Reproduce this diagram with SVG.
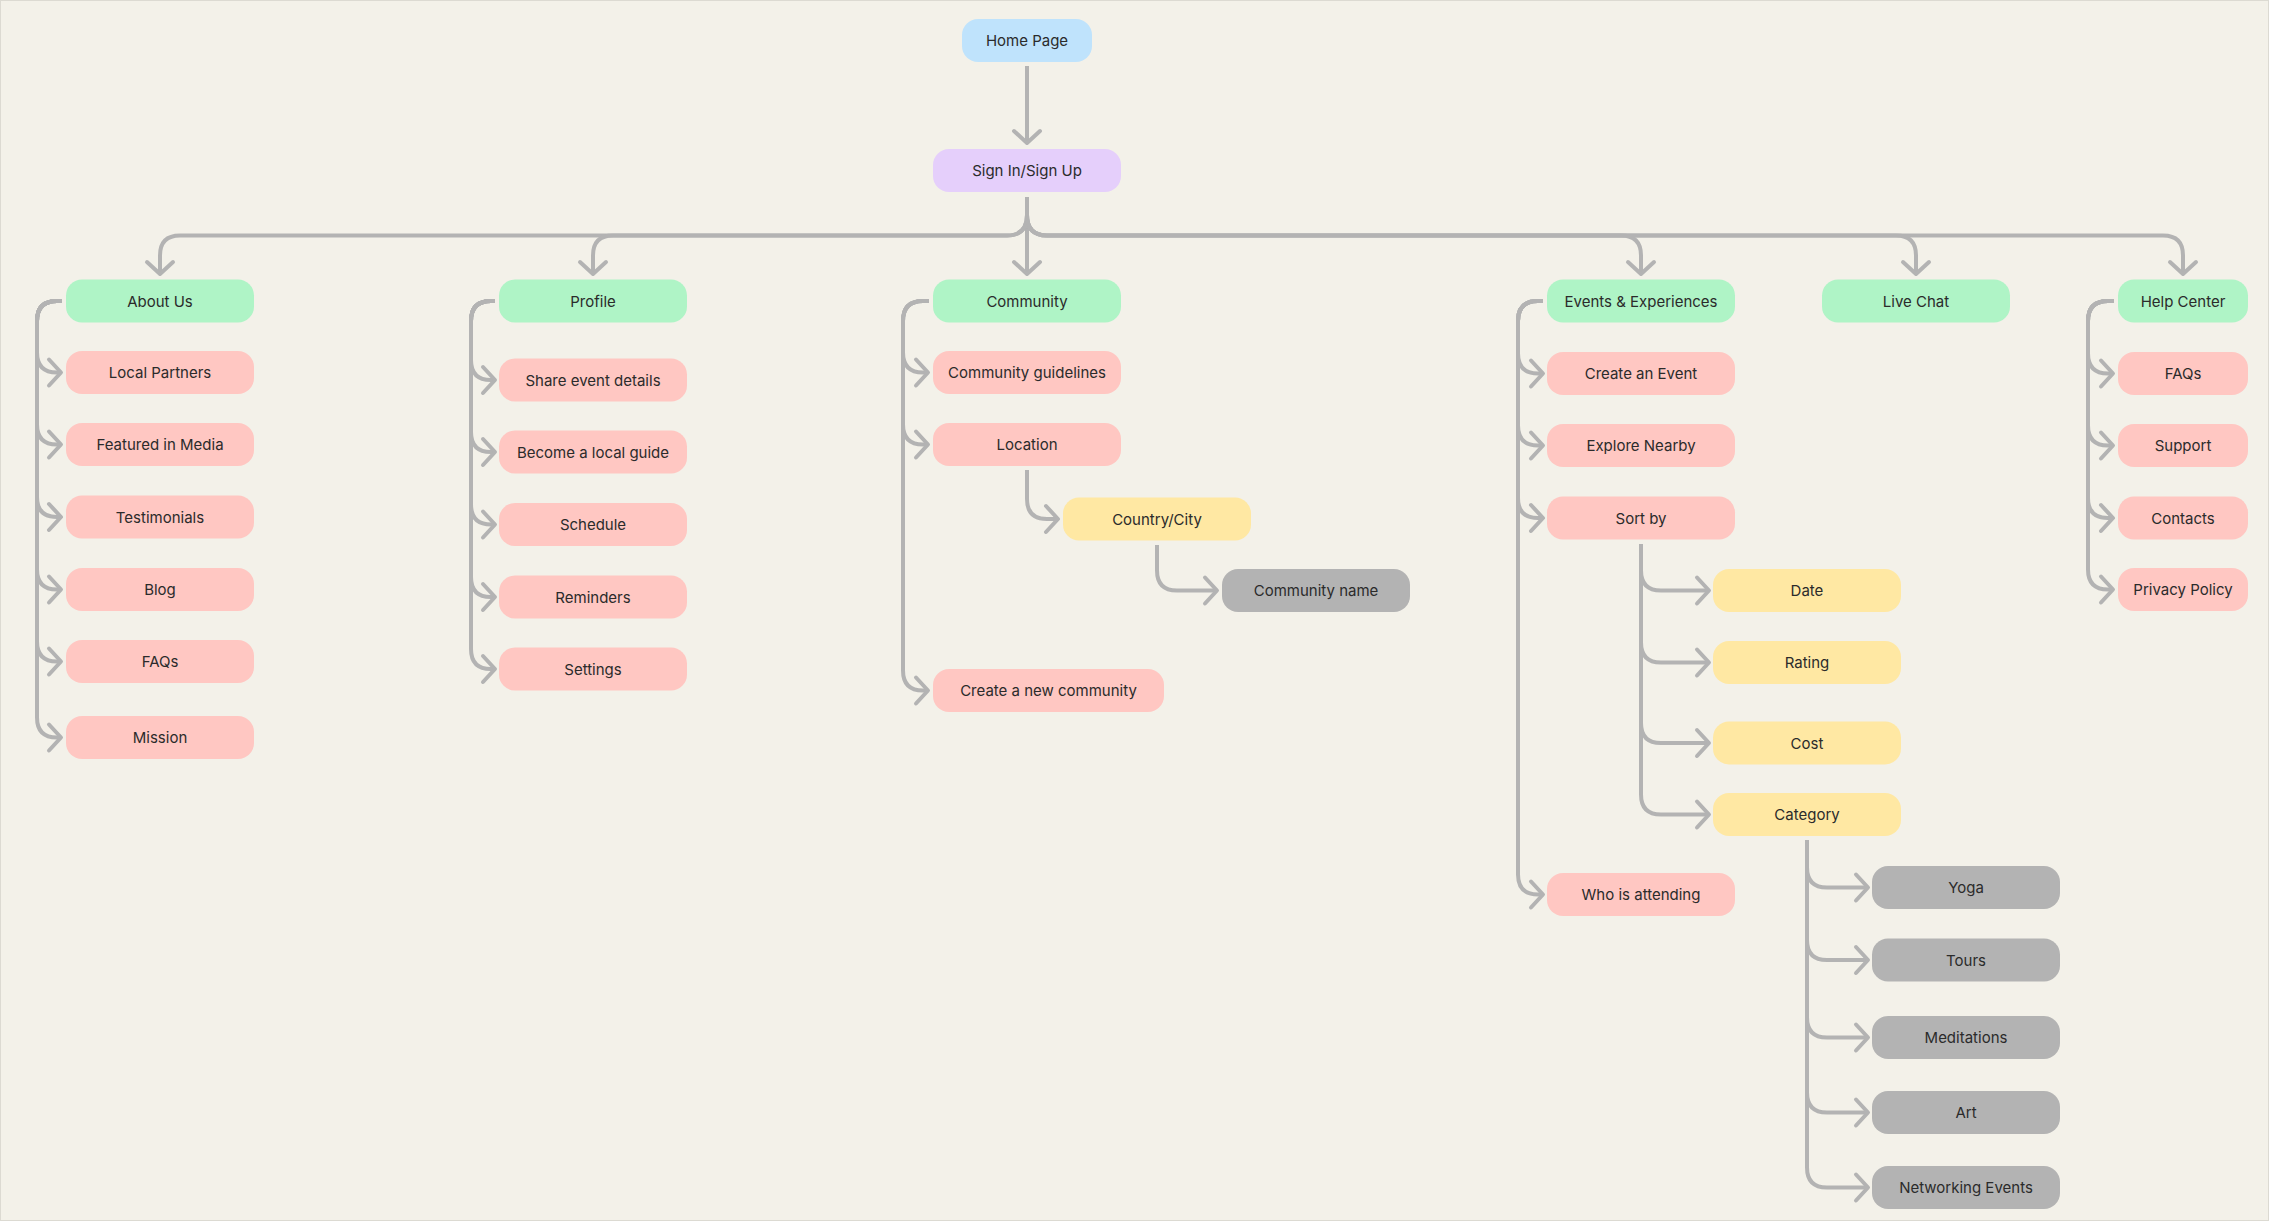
<svg xmlns="http://www.w3.org/2000/svg" width="2269" height="1221" viewBox="0 0 2269 1221">
<defs>
<style>
.n rect{rx:16;ry:16}
.blue rect{fill:#bfe3fc}
.purple rect{fill:#e5cffb}
.green rect{fill:#aff4c6}
.pink rect{fill:#ffc7c2}
.yellow rect{fill:#ffe8a3}
.gray rect{fill:#b3b3b3}
.n text{font-family:Inter,"Noto Sans","Liberation Sans",sans-serif;font-size:15px;font-weight:400;fill:#2b2b2b;text-anchor:middle}
.c path{fill:none;stroke:#b3b3b3;stroke-width:4;marker-end:url(#arr)}
</style>
<marker id="arr" markerUnits="userSpaceOnUse" orient="auto" refX="0" refY="0" markerWidth="30" markerHeight="30" overflow="visible">
<path d="M -12 -13 L 0 0 L -12 13" fill="none" stroke="#b3b3b3" stroke-width="4" stroke-linecap="round" stroke-linejoin="round"/>
</marker>
</defs>
<rect x="0.5" y="0.5" width="2268" height="1220" fill="#f3f1e9" stroke="#dcdad2" stroke-width="1"/>

<g id="connectors" class="c">
<path d="M 1027 66 V 143"/>
<path d="M 1027 197 V 274"/>
<path d="M 1027 197 V 215 Q 1027 235.5 1007 235.5 H 180 Q 160 235.5 160 255.5 V 274"/>
<path d="M 1027 197 V 215 Q 1027 235.5 1007 235.5 H 613 Q 593 235.5 593 255.5 V 274"/>
<path d="M 1027 197 V 215 Q 1027 235.5 1047 235.5 H 1621 Q 1641 235.5 1641 255.5 V 274"/>
<path d="M 1027 197 V 215 Q 1027 235.5 1047 235.5 H 1896 Q 1916 235.5 1916 255.5 V 274"/>
<path d="M 1027 197 V 215 Q 1027 235.5 1047 235.5 H 2163 Q 2183 235.5 2183 255.5 V 274"/>

<path d="M 62 301 H 57 Q 37 301 37 321 V 352.5 Q 37 372.5 57 372.5 H 61"/>
<path d="M 62 301 H 57 Q 37 301 37 321 V 424.5 Q 37 444.5 57 444.5 H 61"/>
<path d="M 62 301 H 57 Q 37 301 37 321 V 497 Q 37 517 57 517 H 61"/>
<path d="M 62 301 H 57 Q 37 301 37 321 V 569.5 Q 37 589.5 57 589.5 H 61"/>
<path d="M 62 301 H 57 Q 37 301 37 321 V 641.5 Q 37 661.5 57 661.5 H 61"/>
<path d="M 62 301 H 57 Q 37 301 37 321 V 717.5 Q 37 737.5 57 737.5 H 61"/>

<path d="M 495 301 H 491 Q 471 301 471 321 V 360 Q 471 380 491 380 H 495"/>
<path d="M 495 301 H 491 Q 471 301 471 321 V 432 Q 471 452 491 452 H 495"/>
<path d="M 495 301 H 491 Q 471 301 471 321 V 504.5 Q 471 524.5 491 524.5 H 495"/>
<path d="M 495 301 H 491 Q 471 301 471 321 V 577 Q 471 597 491 597 H 495"/>
<path d="M 495 301 H 491 Q 471 301 471 321 V 649 Q 471 669 491 669 H 495"/>

<path d="M 929 301 H 923 Q 903 301 903 321 V 352.5 Q 903 372.5 923 372.5 H 928"/>
<path d="M 929 301 H 923 Q 903 301 903 321 V 424.5 Q 903 444.5 923 444.5 H 928"/>
<path d="M 929 301 H 923 Q 903 301 903 321 V 670.5 Q 903 690.5 923 690.5 H 928"/>
<path d="M 1027 470 V 499 Q 1027 519 1047 519 H 1058"/>
<path d="M 1157 545 V 570.5 Q 1157 590.5 1177 590.5 H 1217"/>

<path d="M 1543 301 H 1538 Q 1518 301 1518 321 V 353.5 Q 1518 373.5 1538 373.5 H 1543"/>
<path d="M 1543 301 H 1538 Q 1518 301 1518 321 V 425.5 Q 1518 445.5 1538 445.5 H 1543"/>
<path d="M 1543 301 H 1538 Q 1518 301 1518 321 V 498 Q 1518 518 1538 518 H 1543"/>
<path d="M 1543 301 H 1538 Q 1518 301 1518 321 V 874.5 Q 1518 894.5 1538 894.5 H 1543"/>

<path d="M 1641 544 V 570.5 Q 1641 590.5 1661 590.5 H 1709"/>
<path d="M 1641 544 V 642.5 Q 1641 662.5 1661 662.5 H 1709"/>
<path d="M 1641 544 V 723 Q 1641 743 1661 743 H 1709"/>
<path d="M 1641 544 V 794.5 Q 1641 814.5 1661 814.5 H 1709"/>

<path d="M 1807 840 V 867.5 Q 1807 887.5 1827 887.5 H 1868"/>
<path d="M 1807 840 V 940 Q 1807 960 1827 960 H 1868"/>
<path d="M 1807 840 V 1017.5 Q 1807 1037.5 1827 1037.5 H 1868"/>
<path d="M 1807 840 V 1092.5 Q 1807 1112.5 1827 1112.5 H 1868"/>
<path d="M 1807 840 V 1167.5 Q 1807 1187.5 1827 1187.5 H 1868"/>

<path d="M 2114 301 H 2108 Q 2088 301 2088 321 V 353.5 Q 2088 373.5 2108 373.5 H 2113"/>
<path d="M 2114 301 H 2108 Q 2088 301 2088 321 V 425.5 Q 2088 445.5 2108 445.5 H 2113"/>
<path d="M 2114 301 H 2108 Q 2088 301 2088 321 V 498 Q 2088 518 2108 518 H 2113"/>
<path d="M 2114 301 H 2108 Q 2088 301 2088 321 V 569.5 Q 2088 589.5 2108 589.5 H 2113"/>
</g>

<g id="home" class="n blue"><rect x="962" y="19" width="130" height="43"/><text x="1027" y="46">Home Page</text></g>
<g id="signin" class="n purple"><rect x="933" y="149" width="188" height="43"/><text x="1027" y="176">Sign In/Sign Up</text></g>

<g id="about" class="n green"><rect x="66" y="279.5" width="188" height="43"/><text x="160" y="306.5">About Us</text></g>
<g id="profile" class="n green"><rect x="499" y="279.5" width="188" height="43"/><text x="593" y="306.5">Profile</text></g>
<g id="community" class="n green"><rect x="933" y="279.5" width="188" height="43"/><text x="1027" y="306.5">Community</text></g>
<g id="events" class="n green"><rect x="1547" y="279.5" width="188" height="43"/><text x="1641" y="306.5">Events &amp; Experiences</text></g>
<g id="livechat" class="n green"><rect x="1822" y="279.5" width="188" height="43"/><text x="1916" y="306.5">Live Chat</text></g>
<g id="helpcenter" class="n green"><rect x="2118" y="279.5" width="130" height="43"/><text x="2183" y="306.5">Help Center</text></g>

<g id="local-partners" class="n pink"><rect x="66" y="351" width="188" height="43"/><text x="160" y="378">Local Partners</text></g>
<g id="featured-media" class="n pink"><rect x="66" y="423" width="188" height="43"/><text x="160" y="450">Featured in Media</text></g>
<g id="testimonials" class="n pink"><rect x="66" y="495.5" width="188" height="43"/><text x="160" y="522.5">Testimonials</text></g>
<g id="blog" class="n pink"><rect x="66" y="568" width="188" height="43"/><text x="160" y="595">Blog</text></g>
<g id="about-faqs" class="n pink"><rect x="66" y="640" width="188" height="43"/><text x="160" y="667">FAQs</text></g>
<g id="mission" class="n pink"><rect x="66" y="716" width="188" height="43"/><text x="160" y="743">Mission</text></g>

<g id="share-event" class="n pink"><rect x="499" y="358.5" width="188" height="43"/><text x="593" y="385.5">Share event details</text></g>
<g id="local-guide" class="n pink"><rect x="499" y="430.5" width="188" height="43"/><text x="593" y="457.5">Become a local guide</text></g>
<g id="schedule" class="n pink"><rect x="499" y="503" width="188" height="43"/><text x="593" y="530">Schedule</text></g>
<g id="reminders" class="n pink"><rect x="499" y="575.5" width="188" height="43"/><text x="593" y="602.5">Reminders</text></g>
<g id="settings" class="n pink"><rect x="499" y="647.5" width="188" height="43"/><text x="593" y="674.5">Settings</text></g>

<g id="guidelines" class="n pink"><rect x="933" y="351" width="188" height="43"/><text x="1027" y="378">Community guidelines</text></g>
<g id="location" class="n pink"><rect x="933" y="423" width="188" height="43"/><text x="1027" y="450">Location</text></g>
<g id="country-city" class="n yellow"><rect x="1063" y="497.5" width="188" height="43"/><text x="1157" y="524.5">Country/City</text></g>
<g id="community-name" class="n gray"><rect x="1222" y="569" width="188" height="43"/><text x="1316" y="596">Community name</text></g>
<g id="new-community" class="n pink"><rect x="933" y="669" width="231" height="43"/><text x="1048.5" y="696">Create a new community</text></g>

<g id="create-event" class="n pink"><rect x="1547" y="352" width="188" height="43"/><text x="1641" y="379">Create an Event</text></g>
<g id="explore" class="n pink"><rect x="1547" y="424" width="188" height="43"/><text x="1641" y="451">Explore Nearby</text></g>
<g id="sortby" class="n pink"><rect x="1547" y="496.5" width="188" height="43"/><text x="1641" y="523.5">Sort by</text></g>
<g id="attending" class="n pink"><rect x="1547" y="873" width="188" height="43"/><text x="1641" y="900">Who is attending</text></g>

<g id="date" class="n yellow"><rect x="1713" y="569" width="188" height="43"/><text x="1807" y="596">Date</text></g>
<g id="rating" class="n yellow"><rect x="1713" y="641" width="188" height="43"/><text x="1807" y="668">Rating</text></g>
<g id="cost" class="n yellow"><rect x="1713" y="721.5" width="188" height="43"/><text x="1807" y="748.5">Cost</text></g>
<g id="category" class="n yellow"><rect x="1713" y="793" width="188" height="43"/><text x="1807" y="820">Category</text></g>

<g id="yoga" class="n gray"><rect x="1872" y="866" width="188" height="43"/><text x="1966" y="893">Yoga</text></g>
<g id="tours" class="n gray"><rect x="1872" y="938.5" width="188" height="43"/><text x="1966" y="965.5">Tours</text></g>
<g id="meditations" class="n gray"><rect x="1872" y="1016" width="188" height="43"/><text x="1966" y="1043">Meditations</text></g>
<g id="art" class="n gray"><rect x="1872" y="1091" width="188" height="43"/><text x="1966" y="1118">Art</text></g>
<g id="networking" class="n gray"><rect x="1872" y="1166" width="188" height="43"/><text x="1966" y="1193">Networking Events</text></g>

<g id="help-faqs" class="n pink"><rect x="2118" y="352" width="130" height="43"/><text x="2183" y="379">FAQs</text></g>
<g id="support" class="n pink"><rect x="2118" y="424" width="130" height="43"/><text x="2183" y="451">Support</text></g>
<g id="contacts" class="n pink"><rect x="2118" y="496.5" width="130" height="43"/><text x="2183" y="523.5">Contacts</text></g>
<g id="privacy" class="n pink"><rect x="2118" y="568" width="130" height="43"/><text x="2183" y="595">Privacy Policy</text></g>
</svg>
